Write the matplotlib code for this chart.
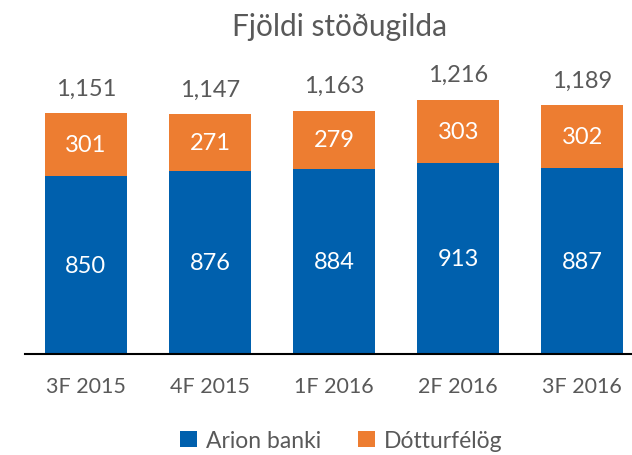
import matplotlib
matplotlib.use('Agg')
import matplotlib.pyplot as plt
import numpy as np

plt.rcParams['font.family'] = ['Lato', 'DejaVu Sans']

quarters = ['3F 2015', '4F 2015', '1F 2016', '2F 2016', '3F 2016']
arion = [850, 876, 884, 913, 887]
dottur = [301, 271, 279, 303, 302]
totals = [1151, 1147, 1163, 1216, 1189]

blue = '#0060AD'
orange = '#ED7D31'
grey = '#595959'

fig = plt.figure(figsize=(6.32, 4.56), dpi=100)
ax = fig.add_axes([25/632, (456-355)/456, 607/632, 295/456])

x = np.arange(len(quarters))
w = 0.66
ax.bar(x, arion, w, color=blue, label='Arion banki')
ax.bar(x, dottur, w, bottom=arion, color=orange, label='Dótturfélög')

for i in range(len(x)):
    ax.text(x[i], arion[i]/2, str(arion[i]), ha='center', va='center', color='white', fontsize=17)
    ax.text(x[i], arion[i] + dottur[i]/2, str(dottur[i]), ha='center', va='center', color='white', fontsize=17)
    ax.annotate('{:,}'.format(totals[i]), (x[i], totals[i]), xytext=(0, 18), textcoords='offset points',
                ha='center', va='center', color=grey, fontsize=17)

ax.set_xlim(-0.49, 4.40)
ax.set_ylim(0, 1410)
ax.set_yticks([])
ax.set_xticks(x)
ax.set_xticklabels(quarters, fontsize=15.5, color=grey)
ax.tick_params(axis='x', length=0, pad=16)
for s in ['top', 'right', 'left']:
    ax.spines[s].set_visible(False)
ax.spines['bottom'].set_color('black')
ax.spines['bottom'].set_linewidth(1.5)

fig.text(0.538, 0.94, 'Fjöldi stöðugilda', ha='center', va='center', fontsize=21.5, color=grey)
fig.legend(loc='center', bbox_to_anchor=(0.54, 0.032), ncol=2, frameon=False, fontsize=16.5,
           handlelength=0.75, handleheight=0.75, handletextpad=0.4, columnspacing=1.6, labelcolor=grey)

fig.savefig('out.png', dpi=100)
